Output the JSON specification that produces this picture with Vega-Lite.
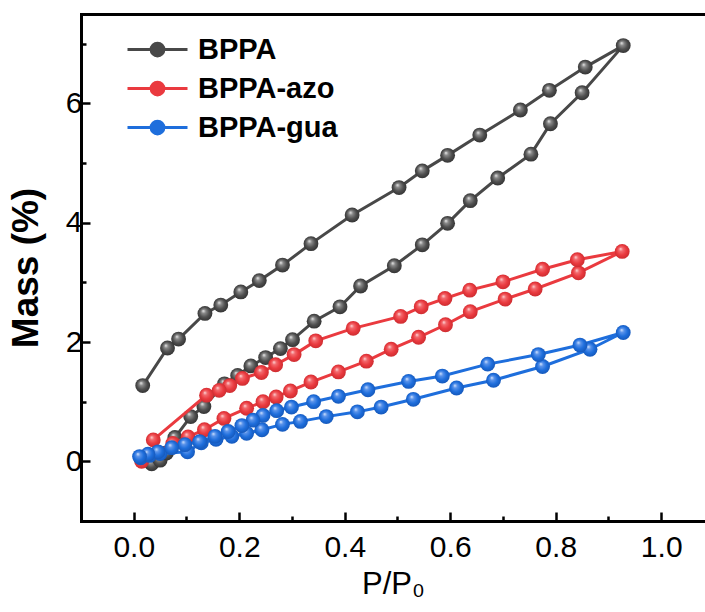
{
  "$schema": "https://vega.github.io/schema/vega-lite/v6.json",
  "autosize": {"type": "none"},
  "padding": {"left": 81, "top": 14, "right": 0, "bottom": 91},
  "width": 624,
  "height": 507,
  "background": "white",
  "config": {
    "view": {"stroke": null},
    "font": "Liberation Sans"
  },
  "data": {
    "values": [
      {"s": "BPPA", "i": 0, "x": 0.034, "y": -0.04},
      {"s": "BPPA", "i": 1, "x": 0.050, "y": 0.02},
      {"s": "BPPA", "i": 2, "x": 0.062, "y": 0.14},
      {"s": "BPPA", "i": 3, "x": 0.078, "y": 0.40},
      {"s": "BPPA", "i": 4, "x": 0.108, "y": 0.75},
      {"s": "BPPA", "i": 5, "x": 0.133, "y": 0.92},
      {"s": "BPPA", "i": 6, "x": 0.172, "y": 1.30},
      {"s": "BPPA", "i": 7, "x": 0.197, "y": 1.44},
      {"s": "BPPA", "i": 8, "x": 0.222, "y": 1.60},
      {"s": "BPPA", "i": 9, "x": 0.250, "y": 1.74},
      {"s": "BPPA", "i": 10, "x": 0.278, "y": 1.89},
      {"s": "BPPA", "i": 11, "x": 0.301, "y": 2.04},
      {"s": "BPPA", "i": 12, "x": 0.342, "y": 2.35},
      {"s": "BPPA", "i": 13, "x": 0.391, "y": 2.59},
      {"s": "BPPA", "i": 14, "x": 0.430, "y": 2.94},
      {"s": "BPPA", "i": 15, "x": 0.494, "y": 3.28},
      {"s": "BPPA", "i": 16, "x": 0.547, "y": 3.63},
      {"s": "BPPA", "i": 17, "x": 0.595, "y": 3.99},
      {"s": "BPPA", "i": 18, "x": 0.638, "y": 4.37},
      {"s": "BPPA", "i": 19, "x": 0.690, "y": 4.75},
      {"s": "BPPA", "i": 20, "x": 0.753, "y": 5.15},
      {"s": "BPPA", "i": 21, "x": 0.790, "y": 5.66},
      {"s": "BPPA", "i": 22, "x": 0.850, "y": 6.18},
      {"s": "BPPA", "i": 23, "x": 0.928, "y": 6.97},
      {"s": "BPPA", "i": 24, "x": 0.856, "y": 6.61},
      {"s": "BPPA", "i": 25, "x": 0.788, "y": 6.22},
      {"s": "BPPA", "i": 26, "x": 0.733, "y": 5.89},
      {"s": "BPPA", "i": 27, "x": 0.656, "y": 5.47},
      {"s": "BPPA", "i": 28, "x": 0.595, "y": 5.13},
      {"s": "BPPA", "i": 29, "x": 0.547, "y": 4.87},
      {"s": "BPPA", "i": 30, "x": 0.503, "y": 4.59},
      {"s": "BPPA", "i": 31, "x": 0.414, "y": 4.13},
      {"s": "BPPA", "i": 32, "x": 0.336, "y": 3.65},
      {"s": "BPPA", "i": 33, "x": 0.282, "y": 3.29},
      {"s": "BPPA", "i": 34, "x": 0.238, "y": 3.03},
      {"s": "BPPA", "i": 35, "x": 0.203, "y": 2.84},
      {"s": "BPPA", "i": 36, "x": 0.165, "y": 2.62},
      {"s": "BPPA", "i": 37, "x": 0.135, "y": 2.48},
      {"s": "BPPA", "i": 38, "x": 0.085, "y": 2.05},
      {"s": "BPPA", "i": 39, "x": 0.064, "y": 1.90},
      {"s": "BPPA", "i": 40, "x": 0.017, "y": 1.27},

      {"s": "BPPA-azo", "i": 0, "x": 0.015, "y": 0.00},
      {"s": "BPPA-azo", "i": 1, "x": 0.074, "y": 0.30},
      {"s": "BPPA-azo", "i": 2, "x": 0.103, "y": 0.41},
      {"s": "BPPA-azo", "i": 3, "x": 0.134, "y": 0.53},
      {"s": "BPPA-azo", "i": 4, "x": 0.171, "y": 0.72},
      {"s": "BPPA-azo", "i": 5, "x": 0.214, "y": 0.89},
      {"s": "BPPA-azo", "i": 6, "x": 0.245, "y": 1.00},
      {"s": "BPPA-azo", "i": 7, "x": 0.270, "y": 1.08},
      {"s": "BPPA-azo", "i": 8, "x": 0.297, "y": 1.18},
      {"s": "BPPA-azo", "i": 9, "x": 0.336, "y": 1.33},
      {"s": "BPPA-azo", "i": 10, "x": 0.388, "y": 1.50},
      {"s": "BPPA-azo", "i": 11, "x": 0.441, "y": 1.68},
      {"s": "BPPA-azo", "i": 12, "x": 0.488, "y": 1.88},
      {"s": "BPPA-azo", "i": 13, "x": 0.540, "y": 2.08},
      {"s": "BPPA-azo", "i": 14, "x": 0.591, "y": 2.29},
      {"s": "BPPA-azo", "i": 15, "x": 0.638, "y": 2.51},
      {"s": "BPPA-azo", "i": 16, "x": 0.704, "y": 2.72},
      {"s": "BPPA-azo", "i": 17, "x": 0.761, "y": 2.89},
      {"s": "BPPA-azo", "i": 18, "x": 0.843, "y": 3.16},
      {"s": "BPPA-azo", "i": 19, "x": 0.926, "y": 3.52},
      {"s": "BPPA-azo", "i": 20, "x": 0.841, "y": 3.38},
      {"s": "BPPA-azo", "i": 21, "x": 0.775, "y": 3.22},
      {"s": "BPPA-azo", "i": 22, "x": 0.700, "y": 3.01},
      {"s": "BPPA-azo", "i": 23, "x": 0.637, "y": 2.87},
      {"s": "BPPA-azo", "i": 24, "x": 0.590, "y": 2.73},
      {"s": "BPPA-azo", "i": 25, "x": 0.545, "y": 2.59},
      {"s": "BPPA-azo", "i": 26, "x": 0.506, "y": 2.43},
      {"s": "BPPA-azo", "i": 27, "x": 0.416, "y": 2.23},
      {"s": "BPPA-azo", "i": 28, "x": 0.345, "y": 2.02},
      {"s": "BPPA-azo", "i": 29, "x": 0.304, "y": 1.79},
      {"s": "BPPA-azo", "i": 30, "x": 0.269, "y": 1.62},
      {"s": "BPPA-azo", "i": 31, "x": 0.242, "y": 1.49},
      {"s": "BPPA-azo", "i": 32, "x": 0.206, "y": 1.39},
      {"s": "BPPA-azo", "i": 33, "x": 0.182, "y": 1.27},
      {"s": "BPPA-azo", "i": 34, "x": 0.162, "y": 1.19},
      {"s": "BPPA-azo", "i": 35, "x": 0.138, "y": 1.11},
      {"s": "BPPA-azo", "i": 36, "x": 0.037, "y": 0.36},

      {"s": "BPPA-gua", "i": 0, "x": 0.013, "y": 0.06},
      {"s": "BPPA-gua", "i": 1, "x": 0.030, "y": 0.10},
      {"s": "BPPA-gua", "i": 2, "x": 0.050, "y": 0.13},
      {"s": "BPPA-gua", "i": 3, "x": 0.102, "y": 0.16},
      {"s": "BPPA-gua", "i": 4, "x": 0.128, "y": 0.31},
      {"s": "BPPA-gua", "i": 5, "x": 0.156, "y": 0.37},
      {"s": "BPPA-gua", "i": 6, "x": 0.186, "y": 0.42},
      {"s": "BPPA-gua", "i": 7, "x": 0.214, "y": 0.47},
      {"s": "BPPA-gua", "i": 8, "x": 0.243, "y": 0.53},
      {"s": "BPPA-gua", "i": 9, "x": 0.282, "y": 0.62},
      {"s": "BPPA-gua", "i": 10, "x": 0.316, "y": 0.67},
      {"s": "BPPA-gua", "i": 11, "x": 0.365, "y": 0.75},
      {"s": "BPPA-gua", "i": 12, "x": 0.424, "y": 0.83},
      {"s": "BPPA-gua", "i": 13, "x": 0.469, "y": 0.91},
      {"s": "BPPA-gua", "i": 14, "x": 0.530, "y": 1.04},
      {"s": "BPPA-gua", "i": 15, "x": 0.612, "y": 1.23},
      {"s": "BPPA-gua", "i": 16, "x": 0.682, "y": 1.36},
      {"s": "BPPA-gua", "i": 17, "x": 0.775, "y": 1.59},
      {"s": "BPPA-gua", "i": 18, "x": 0.865, "y": 1.88},
      {"s": "BPPA-gua", "i": 19, "x": 0.928, "y": 2.16},
      {"s": "BPPA-gua", "i": 20, "x": 0.846, "y": 1.95},
      {"s": "BPPA-gua", "i": 21, "x": 0.767, "y": 1.79},
      {"s": "BPPA-gua", "i": 22, "x": 0.671, "y": 1.63},
      {"s": "BPPA-gua", "i": 23, "x": 0.585, "y": 1.43},
      {"s": "BPPA-gua", "i": 24, "x": 0.521, "y": 1.34},
      {"s": "BPPA-gua", "i": 25, "x": 0.444, "y": 1.20},
      {"s": "BPPA-gua", "i": 26, "x": 0.388, "y": 1.09},
      {"s": "BPPA-gua", "i": 27, "x": 0.341, "y": 1.00},
      {"s": "BPPA-gua", "i": 28, "x": 0.299, "y": 0.91},
      {"s": "BPPA-gua", "i": 29, "x": 0.271, "y": 0.85},
      {"s": "BPPA-gua", "i": 30, "x": 0.245, "y": 0.77},
      {"s": "BPPA-gua", "i": 31, "x": 0.226, "y": 0.69},
      {"s": "BPPA-gua", "i": 32, "x": 0.205, "y": 0.60},
      {"s": "BPPA-gua", "i": 33, "x": 0.179, "y": 0.50},
      {"s": "BPPA-gua", "i": 34, "x": 0.154, "y": 0.42},
      {"s": "BPPA-gua", "i": 35, "x": 0.125, "y": 0.33},
      {"s": "BPPA-gua", "i": 36, "x": 0.097, "y": 0.28},
      {"s": "BPPA-gua", "i": 37, "x": 0.072, "y": 0.23},
      {"s": "BPPA-gua", "i": 38, "x": 0.046, "y": 0.16},
      {"s": "BPPA-gua", "i": 39, "x": 0.027, "y": 0.12},
      {"s": "BPPA-gua", "i": 40, "x": 0.011, "y": 0.08}
    ]
  },
  "encoding": {
    "x": {
      "field": "x", "type": "quantitative",
      "scale": {"domain": [-0.1, 1.083], "nice": false, "zero": false},
      "axis": {
        "title": "P/P₀",
        "titleFont": "Liberation Sans", "titleFontSize": 31, "titleFontWeight": "normal", "titleColor": "black", "titlePadding": 3,
        "domain": true, "domainColor": "black", "domainWidth": 3, "domainCap": "square",
        "values": [0, 0.1, 0.2, 0.3, 0.4, 0.5, 0.6, 0.7, 0.8, 0.9, 1.0],
        "labelExpr": "round(datum.value*10)%2==0 ? format(datum.value, '.1f') : ''",
        "labelFont": "Liberation Sans", "labelFontSize": 30, "labelColor": "black", "labelPadding": 20,
        "tickColor": "black", "tickWidth": 2.5,
        "tickSize": {"condition": {"test": "round(datum.value*10)%2==0", "value": -9}, "value": -5},
        "grid": false, "labelFlush": false, "labelOverlap": false
      }
    },
    "y": {
      "field": "y", "type": "quantitative",
      "scale": {"domain": [-1, 7.5], "nice": false, "zero": false},
      "axis": {
        "title": "Mass (%)",
        "titleFont": "Liberation Sans", "titleFontSize": 37, "titleFontWeight": "bold", "titleColor": "black", "titlePadding": 20,
        "domain": true, "domainColor": "black", "domainWidth": 3, "domainCap": "square",
        "values": [0, 1, 2, 3, 4, 5, 6, 7, 7.5],
        "labelExpr": "datum.value%2==0 ? datum.label : ''",
        "labelFont": "Liberation Sans", "labelFontSize": 30, "labelColor": "black", "labelPadding": 8,
        "tickColor": "black", "tickWidth": 2.5,
        "tickSize": {"condition": {"test": "datum.value%2==0", "value": -9}, "value": -5},
        "tickOpacity": {"condition": {"test": "datum.value==7.5", "value": 0}, "value": 1},
        "grid": true, "gridColor": "black", "gridWidth": 3, "gridCap": "square",
        "gridOpacity": {"condition": {"test": "datum.value==7.5", "value": 1}, "value": 0},
        "labelFlush": false, "labelOverlap": false
      }
    }
  },
  "layer": [
    {
      "transform": [{"filter": "datum.s == 'BPPA'"}],
      "mark": {"type": "line", "strokeWidth": 3},
      "encoding": {
        "order": {"field": "i", "type": "quantitative"},
        "color": {
          "field": "s", "type": "nominal",
          "scale": {"domain": ["BPPA", "BPPA-azo", "BPPA-gua"], "range": ["#484848", "#ea3a3f", "#1e6edc"]},
          "legend": {
            "title": null, "orient": "none", "legendX": 62, "legendY": 21, "padding": 0,
            "labelFont": "Liberation Sans", "labelFontSize": 29, "labelFontWeight": "bold", "labelColor": "black",
            "labelOffset": 26, "rowPadding": 9,
            "symbolType": "M-4,0L4,0M0.85,0A0.85,0.85,0,1,1,-0.85,0A0.85,0.85,0,1,1,0.85,0Z",
            "symbolSize": 225, "symbolStrokeWidth": 3,
            "encode": {"symbols": {"update": {"fill": {"scale": "color", "field": "value"}, "stroke": {"scale": "color", "field": "value"}, "strokeWidth": {"value": 3}, "opacity": {"value": 1}}}}
          }
        }
      }
    },
    {
      "transform": [{"filter": "datum.s == 'BPPA'"}],
      "mark": {"type": "point", "shape": "circle", "filled": true, "size": 220, "opacity": 1, "strokeWidth": 0,
        "fill": {"gradient": "radial", "x1": 0.38, "y1": 0.32, "r1": 0, "x2": 0.5, "y2": 0.5, "r2": 0.55,
          "stops": [{"offset": 0, "color": "#f2f2f2"}, {"offset": 0.25, "color": "#8a8a8a"}, {"offset": 0.6, "color": "#505050"}, {"offset": 1, "color": "#2e2e2e"}]}}
    },
    {
      "transform": [{"filter": "datum.s == 'BPPA-azo'"}],
      "mark": {"type": "line", "strokeWidth": 3},
      "encoding": {
        "order": {"field": "i", "type": "quantitative"},
        "color": {"field": "s", "type": "nominal"}
      }
    },
    {
      "transform": [{"filter": "datum.s == 'BPPA-azo'"}],
      "mark": {"type": "point", "shape": "circle", "filled": true, "size": 220, "opacity": 1, "strokeWidth": 0,
        "fill": {"gradient": "radial", "x1": 0.38, "y1": 0.32, "r1": 0, "x2": 0.5, "y2": 0.5, "r2": 0.55,
          "stops": [{"offset": 0, "color": "#ffe0e0"}, {"offset": 0.25, "color": "#f26a6e"}, {"offset": 0.6, "color": "#ea3a3f"}, {"offset": 1, "color": "#c82a2e"}]}}
    },
    {
      "transform": [{"filter": "datum.s == 'BPPA-gua'"}],
      "mark": {"type": "line", "strokeWidth": 3},
      "encoding": {
        "order": {"field": "i", "type": "quantitative"},
        "color": {"field": "s", "type": "nominal"}
      }
    },
    {
      "transform": [{"filter": "datum.s == 'BPPA-gua'"}],
      "mark": {"type": "point", "shape": "circle", "filled": true, "size": 220, "opacity": 1, "strokeWidth": 0,
        "fill": {"gradient": "radial", "x1": 0.38, "y1": 0.32, "r1": 0, "x2": 0.5, "y2": 0.5, "r2": 0.55,
          "stops": [{"offset": 0, "color": "#dceaff"}, {"offset": 0.25, "color": "#5a93ea"}, {"offset": 0.6, "color": "#1e6edc"}, {"offset": 1, "color": "#1454b4"}]}}
    }
  ]
}
